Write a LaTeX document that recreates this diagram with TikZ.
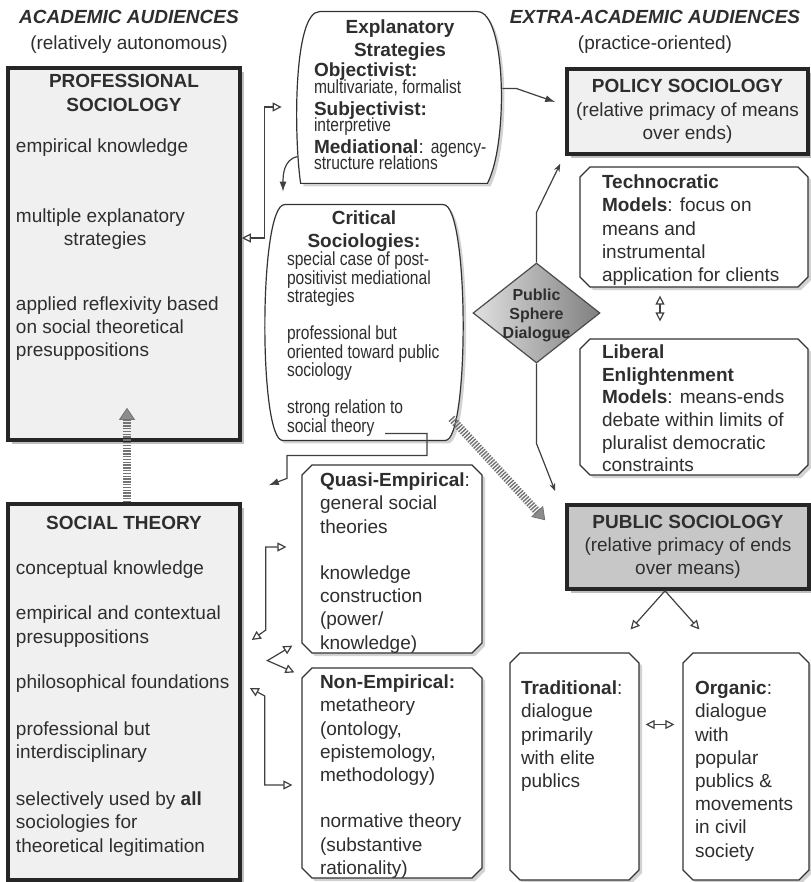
\documentclass[tikz,border=0pt]{standalone}
\usepackage{fontspec}
\setmainfont{Liberation Sans}
\newfontfamily\narrowfont[FakeStretch=0.82]{Liberation Sans}
\usetikzlibrary{arrows.meta,shapes.misc,shapes.geometric,shadows,calc,backgrounds}
\definecolor{boxgray}{gray}{0.94}
\definecolor{pubgray}{gray}{0.78}
\definecolor{ink}{gray}{0.18}
\newcommand{\boxtext}[3]{\parbox[c][#2][t]{#1}{\raggedright #3}}

\begin{document}
\begin{tikzpicture}[x=0.5pt,y=-0.5pt,>={Triangle[open,length=4.5pt,width=4.5pt]},
	font=\fontsize{9.5}{11.6}\selectfont,text=ink,
	mainbox/.style={draw=black!85,line width=1.8pt,fill=boxgray,inner sep=0pt,
		drop shadow={shadow xshift=2pt,shadow yshift=-2pt,opacity=.5}},
	softbox/.style={draw=black!80,line width=0.6pt,fill=white,inner sep=0pt,
		drop shadow={shadow xshift=1.5pt,shadow yshift=-1.5pt,opacity=.35}},
	cutbox/.style={softbox,chamfered rectangle,chamfered rectangle xsep=2.5pt,chamfered rectangle ysep=2.5pt},
	link/.style={draw=black!75,line width=0.6pt},
	solidarrow/.style={link,-{Latex[length=5pt,width=3.5pt]}},
	thinarrow/.style={link,-{Stealth[length=4pt,width=3pt]}},
	hatch/.style={draw=black!55,line width=4pt,dash pattern=on 0.7pt off 0.7pt,
		-{Triangle[length=6pt,width=8pt,line width=0.4pt,fill=black!45]}}]
	\useasboundingbox (0,0) rectangle (810,882);
	% headings
	\node[align=center] (academic) at (129,32) {\textbf{\textit{ACADEMIC AUDIENCES}}\\[1.3pt](relatively autonomous)};
	\node[align=center] (extra) at (655,32) {\textbf{\textit{EXTRA-ACADEMIC AUDIENCES}}\\[1.3pt](practice-oriented)};
	% left column
	\node[mainbox,minimum width=116pt,minimum height=186pt,inner xsep=4pt,inner ysep=3pt] (prof) at (124,254) {\boxtext{108pt}{180pt}{%
		{\centering\bfseries PROFESSIONAL\\[0.7pt]SOCIOLOGY\par}
		\vspace{8.8pt}empirical knowledge\par
		\vspace{23.3pt}multiple explanatory\\\hspace*{24pt}strategies\par
		\vspace{20.8pt}applied reflexivity based\\on social theoretical\\presuppositions}};
	\node[mainbox,minimum width=116pt,minimum height=188pt,inner xsep=4pt,inner ysep=6pt] (soctheory) at (124,692) {\boxtext{108pt}{176pt}{%
		{\centering\bfseries SOCIAL THEORY\par}
		\vspace{10.8pt}conceptual knowledge\par
		\vspace{11.3pt}empirical and contextual\\presuppositions\par
		\vspace{11.3pt}philosophical foundations\par
		\vspace{11.8pt}professional but\\interdisciplinary\par
		\vspace{11.8pt}selectively used by \textbf{all}\\sociologies for\\theoretical legitimation}};
	% middle column
	\node[inner sep=0pt,minimum width=102pt,minimum height=85.5pt] (expl) at (400,97.5) {\parbox[c][85.5pt][t]{86pt}{\fontsize{9.5}{8.2}\selectfont\lineskiplimit=-20pt
		\vspace*{4pt}{\centering\bfseries Explanatory\\[3.3pt]Strategies\par}
		\vspace{1.8pt}\raggedright\textbf{Objectivist:}\\{\narrowfont multivariate, formalist}\\[2.8pt]
		\textbf{Subjectivist:}\\{\narrowfont interpretive}\\[2.8pt]
		\mbox{\textbf{Mediational}: {\narrowfont agency-}}\\{\narrowfont structure relations}}};
	\node[inner sep=0pt,minimum width=99pt,minimum height=117.5pt] (crit) at (364,322.5) {\parbox[c][117.5pt][t]{77pt}{\fontsize{9.5}{9.25}\selectfont\lineskiplimit=-20pt
		\vspace*{2.7pt}{\centering\bfseries Critical\\[2.25pt]Sociologies:\par}
		\raggedright\narrowfont special case of post-\\positivist mediational\\strategies\\[9.25pt]
		professional but\\oriented toward public\\sociology\\[9.25pt]
		strong relation to\\social theory}};
	\begin{scope}[on background layer]
		\fill[white] (0,0) rectangle (810,882);
		\draw[softbox] ($(expl.north west)+(22,0)$) -- ($(expl.north east)+(-25,0)$)
			.. controls ($(expl.north east)+(4,0)$) and ($(expl.south east)+(6,-40)$) .. ($(expl.south east)+(-15,0)$)
			-- ($(expl.south west)+(3,0)$)
			.. controls ($(expl.south west)+(-4,-50)$) and ($(expl.north west)+(-4,0)$) .. cycle;
		\draw[softbox] ($(crit.north west)+(20,0)$) -- ($(crit.north east)+(-20,0)$)
			.. controls ($(crit.north east)+(6,0)$) and ($(crit.south east)+(6,0)$) .. ($(crit.south east)+(-18,0)$)
			-- ($(crit.south west)+(18,0)$)
			.. controls ($(crit.south west)+(-6,0)$) and ($(crit.north west)+(-6,0)$) .. cycle;
	\end{scope}
	\node[cutbox,minimum width=90pt,minimum height=94pt,inner xsep=6.5pt,inner ysep=1.5pt] (quasi) at (392,559) {\boxtext{72pt}{86pt}{%
		\mbox{\textbf{Quasi-Empirical}:}\\general social\\theories\\[11.6pt]knowledge\\construction\\(power/\\knowledge)}};
	\node[cutbox,minimum width=90pt,minimum height=105pt,inner xsep=6.5pt,inner ysep=1pt] (nonemp) at (392,773) {\boxtext{72pt}{98pt}{%
		\textbf{Non-Empirical:}\\metatheory\\(ontology,\\epistemology,\\methodology)\\[11.6pt]normative theory\\(substantive\\rationality)}};
	\node[diamond,draw=black!70,line width=0.6pt,left color=black!12,right color=black!50,minimum width=63.5pt,minimum height=50pt,inner sep=0pt] (dialogue) at (536.5,313) {\smash{\raisebox{-3.5pt}{\parbox[c]{44pt}{\centering\fontsize{8}{9.5}\selectfont\bfseries Public\\Sphere\\Dialogue}}}};
	% right column
	\node[mainbox,minimum width=120.5pt,minimum height=42.5pt,align=center] (policy) at (687.5,111.5) {\textbf{POLICY SOCIOLOGY}\\(relative primacy of means\\over ends)};
	\node[cutbox,minimum width=114pt,minimum height=60pt,inner xsep=8.5pt,inner ysep=1.5pt] (techno) at (694,227) {\boxtext{92pt}{52pt}{%
		\textbf{Technocratic}\\\textbf{Models}: focus on\\means and\\instrumental\\application for clients}};
	\node[cutbox,minimum width=114pt,minimum height=68pt,inner xsep=8.5pt,inner ysep=0.5pt] (liberal) at (694,407) {\boxtext{92pt}{62pt}{\fontsize{9.5}{11.3}\selectfont
		\textbf{Liberal}\\\textbf{Enlightenment}\\\textbf{Models}: means-ends\\debate within limits of\\pluralist democratic\\constraints}};
	\node[mainbox,fill=pubgray,minimum width=121pt,minimum height=42pt,align=center] (public) at (688,547) {\textbf{PUBLIC SOCIOLOGY}\\(relative primacy of ends\\over means)};
	\node[cutbox,minimum width=64.5pt,minimum height=113.5pt,inner xsep=3pt,inner ysep=1.5pt] (trad) at (574.5,766.5) {\boxtext{53.5pt}{105.5pt}{%
		\vspace*{10pt}\textbf{Traditional}:\\dialogue\\primarily\\with elite\\publics}};
	\node[cutbox,minimum width=63pt,minimum height=113.5pt,inner xsep=3.5pt,inner ysep=1.5pt] (organic) at (746,766.5) {\boxtext{51pt}{105.5pt}{%
		\vspace*{10pt}\textbf{Organic}:\\dialogue\\with\\popular\\publics \&\\movements\\in civil\\society}};
	% connectors
	\draw[link,<->] (prof.east |- 0,238) -- ++(23,0) |- ($(expl.west)+(-16,9.5)$);
	\draw[solidarrow] (expl.210) to[out=190,in=90] ($(crit.north)+(-81,-13)$);
	\draw[solidarrow] ($(expl.east)+(0,-9)$) -- ++(14,0) -- ($(policy.west)+(-10,-9.5)$);
	\draw[solidarrow] ($(crit.south)+(21,-7)$) -- ++(42,0) -- ++(0,22) -- ++(-140,0) -- ++(0,23) -- ($(soctheory.north east)+(27,-17)$);
	\draw[hatch] ($(soctheory.north)+(3,0)$) -- ($(prof.south)+(3,-34)$);
	\draw[hatch] ($(crit.south east)+(-12,-22)$) -- ($(public.north west)+(-20,17)$);
	\draw[thinarrow] (dialogue.north) -- ++(0,-50) -- ($(policy.south west)+(-5,8)$);
	\draw[thinarrow] (dialogue.south) -- ++(0,80) -- ($(public.north west)+(-10,-12)$);
	\draw[link,<->] ($(techno.south)+(-34,8)$) -- ($(liberal.north)+(-34,-17)$);
	\draw[link,<->] ($(soctheory.east)+(10,-52)$) -- ++(14,-10) |- ($(quasi.west)+(-15,-12)$);
	\draw[link,<->] ($(quasi.west |- quasi.south)+(-9,-8)$) -- ++(-25,15) -- ($(nonemp.west |- nonemp.north)+(-7,5)$);
	\draw[link,<->] ($(soctheory.east)+(8,-4)$) -- ++(15,8) |- ($(nonemp.west)+(-9,12)$);
	\draw[link,->] ($(public.south)+(-23,0)$) -- ($(trad.north -| trad.east)+(-9,-23)$);
	\draw[link,->] ($(public.south)+(-23,0)$) -- ($(organic.north -| organic.west)+(17,-23)$);
	\draw[link,<->] ($(trad.east)+(6,-42)$) -- ($(organic.west)+(-8,-42)$);
\end{tikzpicture}
\end{document}
